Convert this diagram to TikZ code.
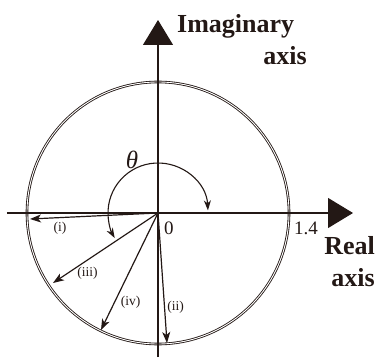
\documentclass[tikz,border=0pt]{standalone}
\usepackage{fontspec}
\setmainfont{Liberation Serif}
\usepackage{xcolor}
\usepackage{tikz}
\usetikzlibrary{arrows.meta}
\definecolor{tintaLine}{RGB}{35,24,21}
\tikzset{
  axisline/.style={draw=tintaLine, line width=1.1pt,
    -{Triangle[length=25pt,width=30pt]}},
  vecline/.style={draw=tintaLine, line width=1.2pt,
    -{Stealth[length=11pt,width=8pt,inset=3pt]}},
  axislabel/.style={inner sep=0pt, text=tintaLine,
    font=\fontsize{26}{32}\selectfont\bfseries},
  numlabel/.style={inner sep=0pt, text=tintaLine,
    font=\fontsize{19}{22}\selectfont},
  caselabel/.style={inner sep=0pt, text=tintaLine,
    font=\fontsize{13.5}{16}\selectfont}
}

\begin{document}
\begin{tikzpicture}[x=1pt, y=1pt]
  \useasboundingbox (-158,-145) rectangle (219,213);
  \coordinate (O) at (0,0);
  % Circle of radius 1.4
  \draw[tintaLine, double=white, line width=0.85pt, double distance=0.9pt]
    (O) circle (131pt);
  % Axes
  \coordinate (reStart) at (-151,0);
  \coordinate (reEnd) at (195,0);
  \coordinate (imStart) at (0,-144);
  \coordinate (imEnd) at (0,193);
  \draw[axisline] (reStart) -- (reEnd);
  \draw[axisline] (imStart) -- (imEnd);
  % Axis labels
  \node[axislabel, anchor=base west] (imag) at (19,180) {Imaginary};
  \node[axislabel, anchor=base east] (imagAxis) at (149,148) {axis};
  \node[axislabel, anchor=base east] (real) at (217,-42) {Real};
  \node[axislabel, anchor=base east] (realAxis) at (217,-74) {axis};
  \node[numlabel, anchor=base west] (zero) at (6,-22) {0};
  \node[numlabel, anchor=base west] (radius) at (136,-22) {1.4};
  % Angle theta
  \draw[tintaLine, line width=1.1pt,
    {Stealth[length=10pt,width=7pt,inset=3pt]}-{Stealth[length=10pt,width=7pt,inset=3pt]}]
    ([shift={(3:50pt)}]O) arc[start angle=3, end angle=210, radius=50pt];
  \node[text=tintaLine, inner sep=0pt, font=\fontsize{25}{28}\selectfont\itshape]
    (theta) at (-26,53) {θ};
  % Vectors
  \coordinate (tipI) at (-128,-6);
  \coordinate (tipII) at (9,-130);
  \coordinate (tipIII) at (-105,-70);
  \coordinate (tipIV) at (-57,-117);
  \draw[vecline] (O) -- (tipI);
  \draw[vecline] (O) -- (tipII);
  \draw[vecline] (O) -- (tipIII);
  \draw[vecline] (O) -- (tipIV);
  \node[caselabel] (caseI) at (-98,-15) {(i)};
  \node[caselabel] (caseII) at (17.5,-94) {(ii)};
  \node[caselabel] (caseIII) at (-70.5,-60) {(iii)};
  \node[caselabel] (caseIV) at (-27.5,-89) {(iv)};
\end{tikzpicture}
\end{document}
